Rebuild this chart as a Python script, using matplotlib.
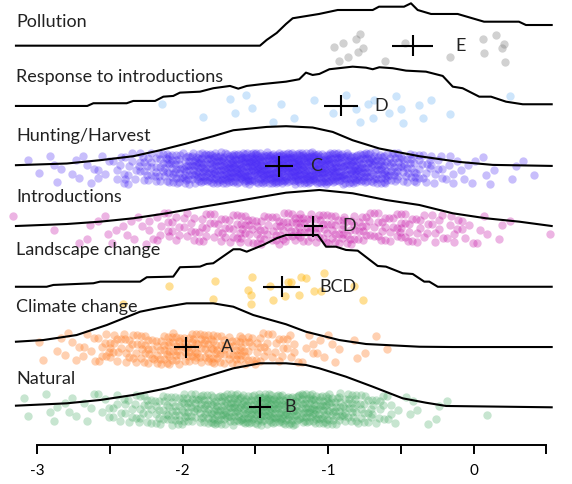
import numpy as np
import matplotlib
matplotlib.use("Agg")
import matplotlib.pyplot as plt

plt.rcParams['font.family'] = ['Lato', 'DejaVu Sans']

# ---------------- data ----------------
groups = ["Pollution", "Response to introductions", "Hunting/Harvest",
          "Introductions", "Landscape change", "Climate change", "Natural"]
letters = ["E", "D", "C", "D", "BCD", "A", "B"]
means = [-0.419, -0.912, -1.338, -1.102, -1.320, -1.977, -1.469]
half_ci = [0.141, 0.115, 0.094, 0.063, 0.129, 0.086, 0.076]
colors = ["#808080", "#5AAAF5", "#4A2AF5", "#C81EAA", "#FFB400", "#FF8533", "#46AA64"]
alphas = [0.36, 0.30, 0.30, 0.33, 0.42, 0.38, 0.30]

# density-like outlines (x, height)
pollution_cx = [-3.146, -1.469, -1.423, -1.354, -1.290, -1.244, -1.063, -0.935, -0.694, -0.651,
                -0.479, -0.431, -0.385, -0.293, -0.110, 0.071, 0.311, 0.359, 0.536]
pollution_ch = [0, 0, 0.095, 0.211, 0.360, 0.455, 0.526, 0.592, 0.592, 0.647,
                0.647, 0.703, 0.592, 0.526, 0.526, 0.398, 0.398, 0.343, 0.343]
response_cx = [-3.146, -2.656, -2.614, -2.385, -2.340, -2.190, -2.133, -2.065, -2.019, -1.881,
               -1.790, -1.675, -1.618, -1.560, -1.446, -1.290, -1.199, -1.153, -1.107, -1.061,
               -0.992, -0.832, -0.740, -0.694, -0.649, -0.557, -0.465, -0.328, -0.213, -0.144,
               -0.076, 0.038, 0.119, 0.222, 0.337, 0.536]
response_ch = [0, 0, 0.045, 0.045, 0.083, 0.083, 0.154, 0.166, 0.221, 0.237,
               0.294, 0.332, 0.287, 0.332, 0.365, 0.403, 0.443, 0.553, 0.514, 0.531,
               0.609, 0.652, 0.635, 0.609, 0.642, 0.626, 0.586, 0.569, 0.498, 0.320,
               0.294, 0.154, 0.154, 0.071, 0.028, 0.028]
hunting_cx = [-3.146, -2.797, -2.568, -2.340, -2.156, -1.973, -1.790, -1.652, -1.423, -1.290,
              -1.107, -0.969, -0.832, -0.649, -0.374, -0.099, 0.131, 0.536]
hunting_ch = [0.017, 0.045, 0.100, 0.166, 0.265, 0.377, 0.498, 0.597, 0.652, 0.664,
              0.642, 0.569, 0.431, 0.294, 0.166, 0.071, 0.022, 0.005]
intro_cx = [-3.146, -2.797, -2.568, -2.340, -2.110, -1.881, -1.652, -1.423, -1.290, -1.061,
            -0.832, -0.603, -0.374, -0.144, 0.085, 0.313, 0.536]
intro_ch = [0.008, 0.041, 0.080, 0.136, 0.219, 0.319, 0.411, 0.506, 0.561, 0.606,
            0.551, 0.440, 0.357, 0.219, 0.136, 0.080, 0.008]
landscape_cx = [-3.146, -2.935, -2.889, -2.614, -2.568, -2.293, -2.247, -2.065, -2.019, -1.881,
                -1.835, -1.790, -1.652, -1.606, -1.560, -1.446, -1.354, -1.290, -1.072, -1.015,
                -0.947, -0.878, -0.797, -0.660, -0.603, -0.488, -0.419, -0.340, -0.305, -0.247, 0.536]
landscape_ch = [0, 0, 0.030, 0.058, 0.085, 0.085, 0.158, 0.168, 0.324, 0.334,
                0.378, 0.390, 0.622, 0.622, 0.582, 0.694, 0.805, 0.859, 0.859, 0.665,
                0.665, 0.611, 0.599, 0.345, 0.334, 0.224, 0.212, 0.085, 0.085, 0, 0]
climate_cx = [-3.146, -2.958, -2.729, -2.522, -2.293, -2.179, -1.973, -1.790, -1.652, -1.515,
              -1.290, -1.153, -1.061, -0.924, -0.740, -0.374, -0.144, 0.536]
climate_ch = [0.088, 0.116, 0.199, 0.365, 0.586, 0.642, 0.725, 0.725, 0.669, 0.531,
              0.378, 0.254, 0.199, 0.116, 0.050, 0.005, 0, 0]
natural_cx = [-3.146, -2.797, -2.568, -2.340, -2.110, -1.881, -1.652, -1.469, -1.290, -1.153,
              -1.061, -0.878, -0.694, -0.488, -0.328, -0.189, 0.536]
natural_ch = [0.027, 0.066, 0.121, 0.204, 0.315, 0.481, 0.647, 0.730, 0.730, 0.702,
              0.647, 0.508, 0.342, 0.149, 0.076, 0.022, 0]

# individual observations (small groups)
pollution_pts = [-0.958, -0.924, -0.900, -0.866, -0.809, -0.797, -0.781, -0.759, -0.608,
                 -0.470, -0.163, 0.066, 0.073, 0.153, 0.195, 0.215, 0.210]
response_pts = [-2.140, -1.863, -1.675, -1.641, -1.565, -1.522, -1.377, -1.324, -1.233,
                -1.096, -0.967, -0.878, -0.809, -0.781, -0.729, -0.694, -0.683, -0.580,
                -0.534, -0.500, -0.484, -0.374, -0.351, -0.293, -0.163, 0.249]
landscape_pts = [-2.408, -2.094, -1.790, -1.778, -1.533, -1.522, -1.549, -1.533, -1.400,
                 -1.377, -1.256, -1.199, -1.187, -1.049, -1.027, -0.821, -0.763, -1.278,
                 -1.300, -1.150, -1.100]

# large groups: counts of observations per 0.1-wide bin
hunting_bins = [-3.1, -3.0, -2.9, -2.8, -2.7, -2.6, -2.5, -2.4, -2.3, -2.2, -2.1, -2.0,
                -1.9, -1.8, -1.7, -1.6, -1.5, -1.4, -1.3, -1.2, -1.1, -1.0, -0.9, -0.8,
                -0.7, -0.6, -0.5, -0.4, -0.3, -0.2, -0.1, 0.0, 0.1, 0.2, 0.3, 0.4]
hunting_counts = [1, 2, 3, 3, 4, 5, 7, 10, 15, 20, 28, 36,
                  44, 50, 56, 60, 62, 64, 64, 62, 60, 56, 50, 44,
                  36, 28, 20, 14, 9, 6, 4, 3, 2, 2, 1, 1]
intro_bins = [-3.2, -2.9, -2.8, -2.7, -2.6, -2.5, -2.4, -2.3, -2.2, -2.1, -2.0, -1.9,
              -1.8, -1.7, -1.6, -1.5, -1.4, -1.3, -1.2, -1.1, -1.0, -0.9, -0.8, -0.7,
              -0.6, -0.5, -0.4, -0.3, -0.2, -0.1, 0.0, 0.1, 0.2, 0.5]
intro_counts = [1, 1, 1, 2, 3, 3, 4, 5, 7, 8, 9, 10,
                11, 12, 13, 14, 15, 16, 16, 16, 15, 14, 13, 12,
                11, 10, 9, 8, 7, 5, 4, 2, 1, 1]
climate_bins = [-3.0, -2.9, -2.8, -2.7, -2.6, -2.5, -2.4, -2.3, -2.2, -2.1, -2.0, -1.9,
                -1.8, -1.7, -1.6, -1.5, -1.4, -1.3, -1.2, -1.1, -1.0, -0.9, -0.8, -0.7, -0.6]
climate_counts = [2, 3, 4, 6, 9, 11, 13, 15, 17, 19, 20, 20,
                  19, 17, 15, 12, 9, 7, 5, 4, 3, 2, 1, 1, 1]
natural_bins = [-3.1, -3.0, -2.9, -2.8, -2.7, -2.6, -2.5, -2.4, -2.3, -2.2, -2.1, -2.0,
                -1.9, -1.8, -1.7, -1.6, -1.5, -1.4, -1.3, -1.2, -1.1, -1.0, -0.9, -0.8,
                -0.7, -0.6, -0.5, -0.4, -0.3, -0.2, 0.0]
natural_counts = [2, 2, 3, 3, 4, 5, 7, 10, 13, 16, 20, 24,
                  28, 32, 36, 38, 40, 40, 38, 36, 32, 27, 21, 15,
                  10, 6, 3, 2, 2, 1, 1]

tick_values = [-3, -2.5, -2, -1.5, -1, -0.5, 0, 0.5]
tick_labels = ["-3", "", "-2", "", "-1", "", "0", ""]

# ---------------- layout ----------------
G1, G2 = 0.7548776662, 0.5698402910  # R2 low-discrepancy sequence


def expand(bins, counts, width=0.1):
    xs = []
    j = 0
    for b, c in zip(bins, counts):
        for k in range(c):
            xs.append(b + width * ((0.37 + j * G1) % 1.0))
            j += 1
    return np.array(xs)


curves = [(pollution_cx, pollution_ch), (response_cx, response_ch), (hunting_cx, hunting_ch),
          (intro_cx, intro_ch), (landscape_cx, landscape_ch), (climate_cx, climate_ch),
          (natural_cx, natural_ch)]
points = [np.array(pollution_pts), np.array(response_pts), expand(hunting_bins, hunting_counts),
          expand(intro_bins, intro_counts), np.array(landscape_pts),
          expand(climate_bins, climate_counts), expand(natural_bins, natural_counts)]
levels = [6, 5, 4, 3, 2, 1, 0]
label_dy = [0.305, 0.403, 0.420, 0.402, 0.528, 0.586, 0.382]
letter_gap_px = [22, 17, 17, 20, 19, 22, 13]

px_per_x = 145.5
px_per_y = 60.27

fig = plt.figure(figsize=(5.72, 4.84), dpi=100)
ax = fig.add_axes([0, 0, 1, 1])
ax.set_xlim(-473.7 / px_per_x, (572 - 473.7) / px_per_x)
ax.set_ylim((407.3 - 484) / px_per_y, 407.3 / px_per_y)

jit = 0.26
for i, g in enumerate(groups):
    lv = levels[i]
    cx, ch = curves[i]
    ax.plot(cx, np.array(ch) + lv, color="black", lw=1.5, zorder=3, solid_joinstyle="round")
    xs = points[i]
    n = len(xs)
    yfrac = (0.5 + np.arange(n) * G2 + i * 0.13) % 1.0
    ys = lv - 0.03 + jit * (2 * yfrac - 1)
    ax.scatter(xs, ys, s=36, color=colors[i], alpha=alphas[i], linewidths=0, zorder=2)
    m, hw = means[i], half_ci[i]
    ax.plot([m - hw, m + hw], [lv, lv], color="black", lw=1.5, zorder=4, solid_capstyle="butt")
    ax.plot([m, m], [lv - 0.174, lv + 0.174], color="black", lw=1.5, zorder=4, solid_capstyle="butt")
    ax.text(m + hw + letter_gap_px[i] / px_per_x, lv, letters[i], fontsize=13,
            va="center", ha="left", color="#222222", zorder=5)
    ax.text(16 / px_per_x - 473.7 / px_per_x, lv + label_dy[i], g, fontsize=13,
            va="baseline", ha="left", color="#222222", zorder=5)

for s in ["top", "right", "left"]:
    ax.spines[s].set_visible(False)
ax.spines["bottom"].set_position(("data", (407.3 - 445) / px_per_y))
ax.spines["bottom"].set_bounds(-3, 0.5)
ax.spines["bottom"].set_linewidth(1.4)
ax.set_xticks(tick_values)
ax.set_xticklabels(tick_labels)
ax.tick_params(axis="x", direction="out", length=6.5, width=1.4, pad=7, labelsize=11)
ax.set_yticks([])
ax.patch.set_visible(False)

fig.savefig("out.png", dpi=100)
